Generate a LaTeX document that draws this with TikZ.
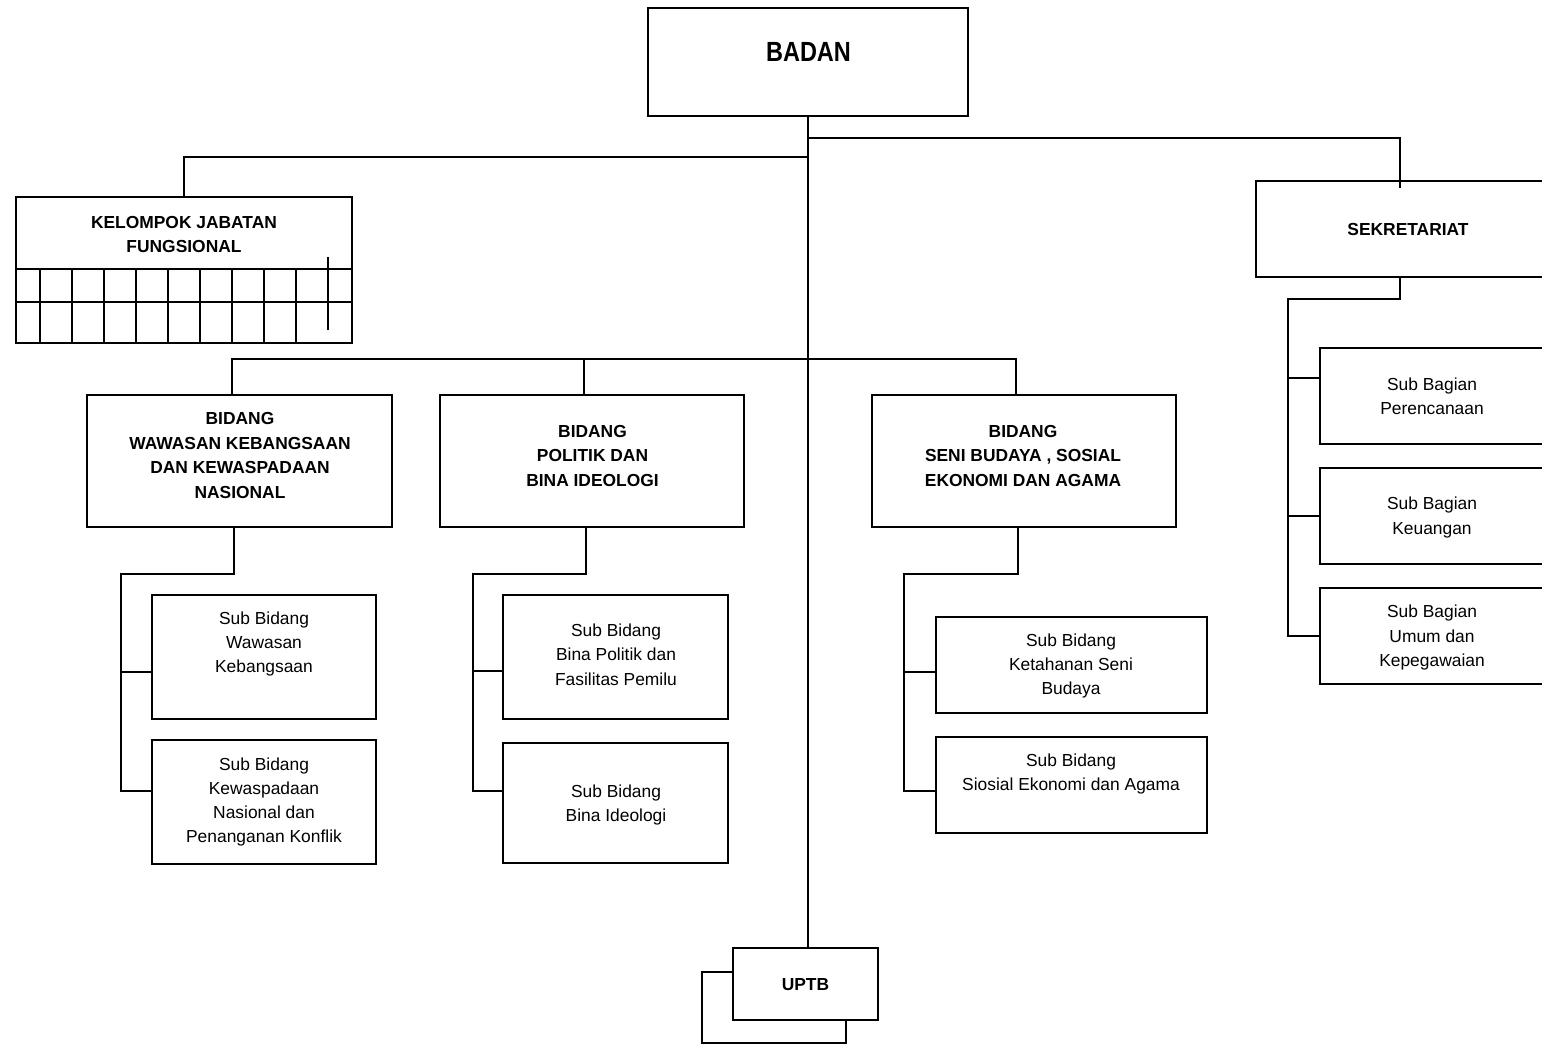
\documentclass[tikz,border=0pt]{standalone}
\usepackage{fontspec}
\setmainfont{Liberation Sans}
\usetikzlibrary{calc}
\begin{document}
\begin{tikzpicture}[x=1pt,y=-1pt,
  orgbox/.style 2 args={draw, line width=1.8pt, fill=white, inner sep=0pt, outer sep=0pt,
    minimum width=#1, minimum height=#2},
  wire/.style={line width=1.8pt, line cap=rect},
  thin grid/.style={line width=1.8pt},
  head/.style={align=center, inner sep=0pt, font=\fontsize{17.4}{24.7}\selectfont\bfseries},
  plain/.style={align=center, inner sep=0pt, font=\fontsize{17.4}{24.3}\selectfont}]
\useasboundingbox (0,0) rectangle (1542,1044);
\clip (0,0) rectangle (1542,1044);

% ---- boxes ----
\node[orgbox={320pt}{108pt}] (badan) at (808,62) {};
\node[orgbox={336pt}{146pt}] (kjf) at (184,270) {};
\node[orgbox={304pt}{96pt}] (sek) at (1408,229) {};
\node[orgbox={305pt}{132pt}] (b1) at (239.5,461) {};
\node[orgbox={304pt}{132pt}] (b2) at (592,461) {};
\node[orgbox={304pt}{132pt}] (b3) at (1024,461) {};
\node[orgbox={224pt}{124pt}] (s1a) at (264,657) {};
\node[orgbox={224pt}{124pt}] (s1b) at (264,802) {};
\node[orgbox={225pt}{124pt}] (s2a) at (615.5,657) {};
\node[orgbox={225pt}{120pt}] (s2b) at (615.5,803) {};
\node[orgbox={271pt}{96pt}] (s3a) at (1071.5,665) {};
\node[orgbox={271pt}{96pt}] (s3b) at (1071.5,785) {};
\node[orgbox={224pt}{96pt}] (k1) at (1432,396) {};
\node[orgbox={224pt}{96pt}] (k2) at (1432,516) {};
\node[orgbox={224pt}{96pt}] (k3) at (1432,636) {};
\node[orgbox={144pt}{71pt}] (uptbback) at (774,1007.5) {};
\node[orgbox={145pt}{72pt}] (uptb) at (805.5,984) {};

% ---- grid of the functional group ----
\draw[thin grid] (16,269) -- (352,269);
\draw[thin grid] (16,302) -- (352,302);
\foreach \x in {40,72,...,296} \draw[thin grid] (\x,269) -- (\x,343);
\draw[thin grid] (328,257) -- (328,330);

% ---- labels ----
\node[head, font=\fontsize{23.5}{28}\selectfont\bfseries] (t-badan) at (808.5,51.7) {\scalebox{1}[1.18]{BADAN}};
\node[head] (t-kjf) at (184,234.5) {KELOMPOK JABATAN\\FUNGSIONAL};
\node[head] (t-sek) at (1408,229.5) {SEKRETARIAT};
\node[head] (t-b1) at (240,455.5) {BIDANG\\WAWASAN KEBANGSAAN\\DAN KEWASPADAAN\\NASIONAL};
\node[head] (t-b2) at (592.5,456) {BIDANG\\POLITIK DAN\\BINA IDEOLOGI};
\node[head] (t-b3) at (1023,456) {BIDANG\\SENI BUDAYA , SOSIAL\\EKONOMI DAN AGAMA};
\node[plain] (t-s1a) at (264,644) {Sub Bidang\\Wawasan\\Kebangsaan};
\node[plain] (t-s1b) at (264,802) {Sub Bidang\\Kewaspadaan\\Nasional dan\\Penanganan Konflik};
\node[plain] (t-s2a) at (616,654.5) {Sub Bidang\\Bina Politik dan\\Fasilitas Pemilu};
\node[plain] (t-s2b) at (616,805) {Sub Bidang\\Bina Ideologi};
\node[plain] (t-s3a) at (1071,666) {Sub Bidang\\Ketahanan Seni\\Budaya};
\node[plain] (t-s3b) at (1071,774) {Sub Bidang\\Siosial Ekonomi dan Agama};
\node[plain] (t-k1) at (1432,396) {Sub Bagian\\Perencanaan};
\node[plain] (t-k2) at (1432,517.5) {Sub Bagian\\Keuangan};
\node[plain] (t-k3) at (1432,637.5) {Sub Bagian\\Umum dan\\Kepegawaian};
\node[head] (t-uptb) at (805.5,984.5) {UPTB};

% ---- junction points ----
\coordinate (jR) at (808,138);
\coordinate (jL) at (808,157);
\coordinate (jB) at (808,359);
\coordinate (sekIn) at (1400,187);
\coordinate (e1) at (121,574);
\coordinate (e2) at (473,574);
\coordinate (e3) at (904,574);
\coordinate (e4) at (1288,299);
\coordinate (p1a) at ([yshift=-15pt]s1a.west);
\coordinate (p1b) at ([yshift=11pt]s1b.west);
\coordinate (p2a) at ([yshift=-14pt]s2a.west);
\coordinate (p2b) at ([yshift=12pt]s2b.west);
\coordinate (p3a) at ([yshift=-7pt]s3a.west);
\coordinate (p3b) at ([yshift=-6pt]s3b.west);
\coordinate (p4a) at ([yshift=18pt]k1.west);
\coordinate (p4b) at (k2.west);
\coordinate (p4c) at (k3.west);

% ---- connectors ----
\draw[wire] (badan.south) -- (badan.south |- uptb.north);
\draw[wire] (jL) -| (kjf.north);
\draw[wire] (jR) -| (sekIn);
\draw[wire] ([xshift=-7.5pt]b1.north) |- (jB) -| ([xshift=-8pt]b3.north);
\draw[wire] ([xshift=-8pt]b2.north) |- (jB);

\draw[wire] ([xshift=-5.5pt]b1.south) |- (e1) |- (p1b);
\draw[wire] (p1a) -- (p1a -| e1);
\draw[wire] ([xshift=-6pt]b2.south) |- (e2) |- (p2b);
\draw[wire] (p2a) -- (p2a -| e2);
\draw[wire] ([xshift=-6pt]b3.south) |- (e3) |- (p3b);
\draw[wire] (p3a) -- (p3a -| e3);
\draw[wire] ([xshift=-8pt]sek.south) |- (e4) |- (p4c);
\draw[wire] (p4a) -- (p4a -| e4);
\draw[wire] (p4b) -- (p4b -| e4);
\end{tikzpicture}
\end{document}
